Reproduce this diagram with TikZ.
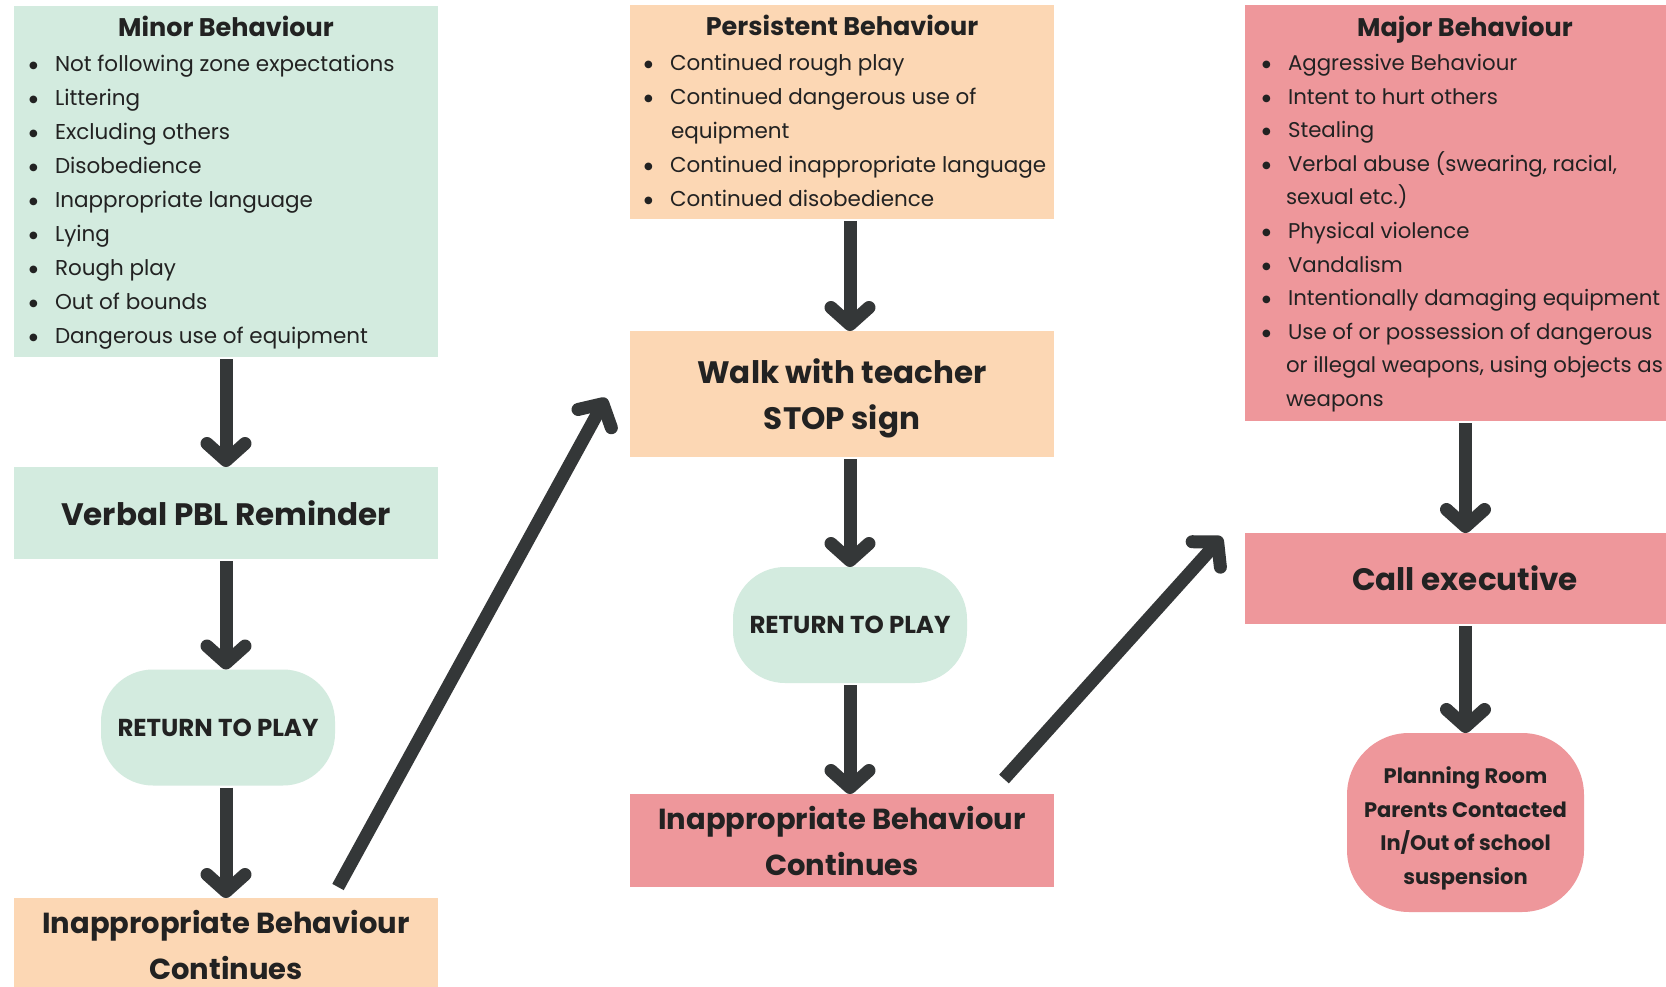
\documentclass[tikz,border=0pt]{standalone}
\usepackage{fontspec}
\setmainfont{Poppins}
\newfontfamily\symf{DejaVu Sans}
\usetikzlibrary{arrows.meta}
\definecolor{mint}{RGB}{211,235,223}
\definecolor{peach}{RGB}{252,215,180}
\definecolor{rose}{RGB}{238,151,155}
\definecolor{ink}{RGB}{34,34,34}
\definecolor{arrowc}{RGB}{52,55,56}
\newcommand{\bul}{\raisebox{3pt}{\symf\fontsize{10}{10}\selectfont ●}}
\newcommand{\itm}[2][15pt]{\hspace*{#1}\makebox[26pt][l]{\bul}#2\par}
\newcommand{\cnt}[1]{\hspace*{41pt}#1\par}
\newcommand{\hd}[1]{\centering\rule{0pt}{31pt}{\fontsize{25.5}{30}\selectfont\bfseries #1}\par\raggedright\vspace{1pt}}
\newcommand{\shiftdown}[3]{\parbox[c]{#1}{\centering\vspace*{#2}#3}}
\tikzset{
  box/.style={inner sep=0pt, outer sep=0pt, text=ink},
  bigtext/.style={font=\fontsize{31}{46}\selectfont\bfseries, align=center},
  ibctext/.style={font=\fontsize{29}{46}\selectfont\bfseries, align=center},
  pill/.style={box, rounded corners=52pt, minimum width=234pt, minimum height=116pt, font=\fontsize{24.5}{24}\selectfont\bfseries},
  flow/.style={line width=13pt, draw=arrowc, -{Straight Barb[length=17pt, width=38pt, round]}},
  diag/.style={flow, line cap=butt}
}
\begin{document}
\begin{tikzpicture}[x=1pt, y=-1pt]
\useasboundingbox (0,0) rectangle (1666,987);
\clip (0,0) rectangle (1666,987);
\fill[white] (0,0) rectangle (1666,987);

% left column
\node[box, fill=mint, anchor=north west] (minor) at (14,6) {\parbox[c][351pt][t]{424pt}{\fontsize{21.5}{34}\selectfont
\hd{Minor Behaviour}
\itm{Not following zone expectations}
\itm{Littering}
\itm{Excluding others}
\itm{Disobedience}
\itm{Inappropriate language}
\itm{Lying}
\itm{Rough play}
\itm{Out of bounds}
\itm{Dangerous use of equipment}}};
\node[box, fill=mint, anchor=north west, minimum width=424pt, minimum height=92pt, bigtext] (verbal) at (14,467) {Verbal PBL Reminder};
\node[pill, fill=mint] (rtp1) at (218,727.5) {RETURN TO PLAY};
\node[box, fill=peach, anchor=north west, minimum width=424pt, minimum height=94pt, ibctext] (ibc1) at (14,898) {Inappropriate Behaviour\\Continues};

% middle column
\node[box, fill=peach, anchor=north west] (pers) at (630,5) {\parbox[c][214pt][t]{424pt}{\fontsize{21.5}{34}\selectfont
\hd{Persistent Behaviour}
\itm[14pt]{Continued rough play}
\itm[14pt]{Continued dangerous use of}
\cnt{equipment}
\itm[14pt]{Continued inappropriate language}
\itm[14pt]{Continued disobedience}}};
\node[box, fill=peach, anchor=north west, minimum width=424pt, minimum height=126pt, font=\fontsize{31}{46}\selectfont\bfseries] (walk) at (630,331) {\shiftdown{424pt}{8pt}{Walk with teacher\\STOP sign}};
\node[pill, fill=mint] (rtp2) at (850,625) {RETURN TO PLAY};
\node[box, fill=rose, anchor=north west, minimum width=424pt, minimum height=93pt, ibctext] (ibc2) at (630,794) {Inappropriate Behaviour\\Continues};

% right column
\node[box, fill=rose, anchor=north west] (major) at (1245,5) {\parbox[c][416pt][t]{440pt}{\fontsize{21.3}{33.6}\selectfont
\hd{Major Behaviour}
\itm[17pt]{Aggressive Behaviour}
\itm[17pt]{Intent to hurt others}
\itm[17pt]{Stealing}
\itm[17pt]{Verbal abuse (swearing, racial,}
\cnt{sexual etc.)}
\itm[17pt]{Physical violence}
\itm[17pt]{Vandalism}
\itm[17pt]{Intentionally damaging equipment}
\itm[17pt]{Use of or possession of dangerous}
\cnt{or illegal weapons, using objects as}
\cnt{weapons}}};
\node[box, fill=rose, anchor=north west, minimum width=440pt, minimum height=91pt, bigtext] (call) at (1245,533) {Call executive};
\node[box, fill=rose, rounded corners=62pt, minimum width=237pt, minimum height=179pt, font=\fontsize{21}{33.5}\selectfont\bfseries] (plan) at (1465.5,822.5) {\shiftdown{237pt}{12pt}{Planning Room\\Parents Contacted\\In/Out of school\\suspension}};

% free ends of the diagonal connectors
\coordinate (d1s) at (338,887);
\coordinate (d1e) at (606,398);
\coordinate (d2s) at (1004,779);
\coordinate (d2e) at (1222,537);

% vertical connectors
\draw[flow, shorten <=2pt] (minor.south) -- (verbal.north);
\draw[flow, shorten <=2pt] (verbal.south) -- (verbal.south |- rtp1.north);
\draw[flow, shorten <=2pt] (verbal.south |- rtp1.south) -- (ibc1.north);
\draw[flow, shorten <=2pt] (pers.south -| rtp2.north) -- (walk.north -| rtp2.north);
\draw[flow, shorten <=2pt] (walk.south -| rtp2.north) -- (rtp2.north);
\draw[flow, shorten <=2pt] (rtp2.south) -- (ibc2.north -| rtp2.south);
\draw[flow, shorten <=2pt] (major.south -| plan.north) -- (call.north -| plan.north);
\draw[flow, shorten <=2pt] (call.south -| plan.north) -- (plan.north);
% diagonal connectors
\draw[diag] (d1s) -- (d1e);
\draw[diag] (d2s) -- (d2e);
\end{tikzpicture}
\end{document}
